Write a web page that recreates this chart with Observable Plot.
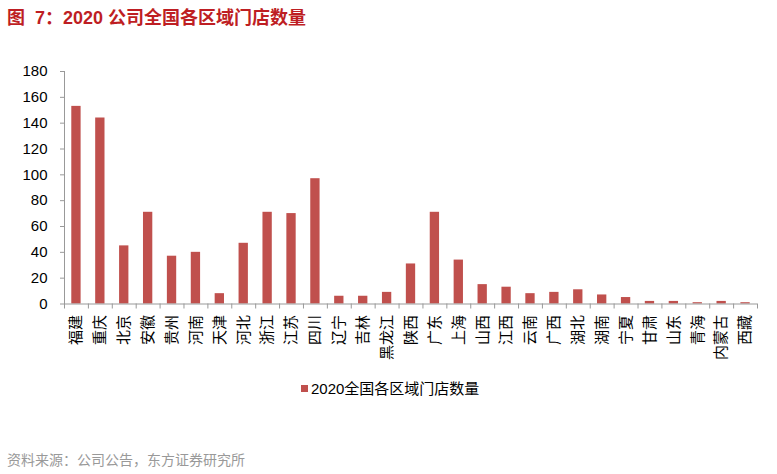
<!DOCTYPE html>
<html>
<head>
<meta charset="utf-8">
<script src="https://cdn.jsdelivr.net/npm/d3@7"></script>
<script src="https://cdn.jsdelivr.net/npm/@observablehq/plot@0.6"></script>
<style>
  html, body { margin: 0; padding: 0; background: #fff; }
  body { width: 777px; height: 474px; overflow: hidden; font-family: "Liberation Sans", Arial, "Noto Sans CJK SC", sans-serif; }
  #title { height: 40px; line-height: 36px; padding-left: 7px; font-size: 18px; font-weight: bold; color: #be1e23; white-space: pre; }
  #chart svg { display: block; }
  #legend { height: 60px; line-height: 18px; padding-left: 301px; font-size: 15px; color: #000; }
  #legend .sw { display: inline-block; width: 7px; height: 7px; background: #C0504D; margin-right: 3px; vertical-align: 2px; }
  #caption { height: 24px; padding-top: 10px; line-height: 20px; padding-left: 7px; font-size: 14px; color: #999; }
</style>
</head>
<body>
<div id="title">图  7：2020 公司全国各区域门店数量</div>
<div id="chart"></div>
<div id="legend"><span class="sw"></span>2020全国各区域门店数量</div>
<div id="caption">资料来源：公司公告，东方证券研究所</div>
<script>
const regions = ["福建","重庆","北京","安徽","贵州","河南","天津","河北","浙江","江苏","四川","辽宁","吉林","黑龙江","陕西","广东","上海","山西","江西","云南","广西","湖北","湖南","宁夏","甘肃","山东","青海","内蒙古","西藏"];
const counts = [153,144,45,71,37,40,8,47,71,70,97,6,6,9,31,71,34,15,13,8,9,11,7,5,2,2,1,2,1];
const yTicks = [0,20,40,60,80,100,120,140,160,180];

const data = regions.map((r, i) => ({region: r, count: counts[i]}));

const W = 777, H = 340, mL = 64, mR = 20, mT = 31, mB = 76.5;
const step = (W - mL - mR) / regions.length;
const axisGray = "#999";

const chart = Plot.plot({
  width: W,
  height: H,
  marginLeft: mL,
  marginRight: mR,
  marginTop: mT,
  marginBottom: mB,
  style: {fontFamily: "'Liberation Sans', Arial, 'Noto Sans CJK SC', sans-serif", fontSize: "15px", color: "#000", background: "#fff"},
  x: {domain: regions, paddingInner: 0.61, paddingOuter: 0.305, round: false},
  y: {domain: [0, 180]},
  marks: [
    Plot.barY(data, {x: "region", y: "count", fill: "#C0504D"}),
    Plot.frame({anchor: "left", stroke: axisGray}),
    Plot.ruleY([0], {stroke: axisGray}),
    Plot.ruleX(regions, {x: d => d, dx: -step / 2, y1: 0, y2: 0, insetBottom: -5, stroke: axisGray}),
    Plot.ruleX([regions[regions.length - 1]], {x: d => d, dx: step / 2, y1: 0, y2: 0, insetBottom: -5, stroke: axisGray}),
    Plot.axisY({ticks: yTicks, tickSize: 4, tickPadding: 13, stroke: axisGray, fill: "#000", label: null, fontSize: 15}),
    Plot.axisX({tickSize: 0, tickRotate: -90, tickPadding: 11, fill: "#000", label: null, fontSize: 15})
  ]
});
document.getElementById("chart").appendChild(chart);
</script>
</body>
</html>
